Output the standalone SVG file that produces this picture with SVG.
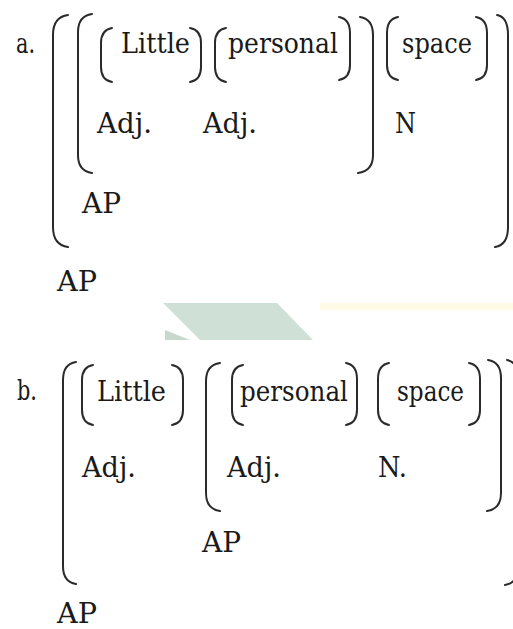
<svg xmlns="http://www.w3.org/2000/svg" width="513" height="629" viewBox="0 0 513 629">
<style>
  .t { font-family: 'DejaVu Serif', serif; font-size: 27.5px; fill: #1a1a1a; }
  .br { fill: none; stroke: #2a2a2a; stroke-width: 2; stroke-linecap: round; }
</style>
<rect x="0" y="0" width="513" height="629" fill="#ffffff"/>
<g id="watermark">
  <polygon points="163,303 277,303 313,340 200,340" fill="#cfe1d6"/>
  <polygon points="165,330 165,340 190,340" fill="#c8d8ce"/>
  <rect x="320" y="303" width="193" height="7" fill="#fffbe6"/>
</g>
<g id="part-a" class="t">
  <g id="a-label"><text x="16" y="53" textLength="19" lengthAdjust="spacingAndGlyphs">a.</text></g>
  <g id="a-little"><text x="121" y="53" textLength="69" lengthAdjust="spacingAndGlyphs">Little</text><text x="97" y="133" textLength="55" lengthAdjust="spacingAndGlyphs">Adj.</text></g>
  <g id="a-personal"><text x="228" y="53" textLength="110" lengthAdjust="spacingAndGlyphs">personal</text><text x="203" y="133" textLength="54" lengthAdjust="spacingAndGlyphs">Adj.</text></g>
  <g id="a-space"><text x="402" y="53" textLength="70" lengthAdjust="spacingAndGlyphs">space</text><text x="395" y="133" textLength="21" lengthAdjust="spacingAndGlyphs">N</text></g>
  <g id="a-ap-inner"><text x="82" y="213" textLength="39" lengthAdjust="spacingAndGlyphs">AP</text></g>
  <g id="a-ap-outer"><text x="57" y="291" textLength="40" lengthAdjust="spacingAndGlyphs">AP</text></g>
  <g id="a-brackets">
    <path class="br" d="M68,15 Q53,17 53,35 V227 Q53,245 68,247"/>
    <path class="br" d="M92,14 Q78,16 78,32 V155 Q78,171 92,173"/>
    <path class="br" d="M112,28 Q101,30 101,43 V67 Q101,80 112,82"/>
    <path class="br" d="M190,28 Q201,30 201,43 V67 Q201,80 190,82"/>
    <path class="br" d="M226,28 Q215,30 215,43 V67 Q215,80 226,82"/>
    <path class="br" d="M339,17 Q350,19 350,33 V65 Q350,78 339,80"/>
    <path class="br" d="M360,17 Q373,19 373,35 V155 Q373,171 358,173"/>
    <path class="br" d="M398,17 Q387,19 387,33 V65 Q387,78 398,80"/>
    <path class="br" d="M476,17 Q487,19 487,33 V65 Q487,78 476,80"/>
    <path class="br" d="M497,15 Q508,17 508,35 V227 Q508,245 495,247"/>
  </g>
</g>
<g id="part-b" class="t">
  <g id="b-label"><text x="17" y="400" textLength="20" lengthAdjust="spacingAndGlyphs">b.</text></g>
  <g id="b-little"><text x="97" y="401" textLength="69" lengthAdjust="spacingAndGlyphs">Little</text><text x="82" y="477" textLength="54" lengthAdjust="spacingAndGlyphs">Adj.</text></g>
  <g id="b-personal"><text x="240" y="401" textLength="108" lengthAdjust="spacingAndGlyphs">personal</text><text x="227" y="477" textLength="54" lengthAdjust="spacingAndGlyphs">Adj.</text></g>
  <g id="b-space"><text x="397" y="401" textLength="67" lengthAdjust="spacingAndGlyphs">space</text><text x="378" y="477" textLength="29" lengthAdjust="spacingAndGlyphs">N.</text></g>
  <g id="b-ap-inner"><text x="202" y="552" textLength="39" lengthAdjust="spacingAndGlyphs">AP</text></g>
  <g id="b-ap-outer"><text x="57" y="623" textLength="40" lengthAdjust="spacingAndGlyphs">AP</text></g>
  <g id="b-brackets">
    <path class="br" d="M76,362 Q63,364 63,380 V566 Q63,582 76,584"/>
    <path class="br" d="M93,365 Q82,367 82,380 V410 Q82,423 93,425"/>
    <path class="br" d="M172,365 Q183,367 183,380 V410 Q183,423 172,425"/>
    <path class="br" d="M220,363 Q206,365 206,381 V493 Q206,509 220,511"/>
    <path class="br" d="M243,365 Q232,367 232,380 V410 Q232,423 243,425"/>
    <path class="br" d="M346,363 Q357,365 357,379 V410 Q357,423 346,425"/>
    <path class="br" d="M389,363 Q378,365 378,379 V410 Q378,423 389,425"/>
    <path class="br" d="M469,363 Q480,365 480,379 V410 Q480,423 469,425"/>
    <path class="br" d="M488,360 Q501,362 501,378 V493 Q501,509 487,511"/>
    <path class="br" d="M507,360 Q518,362 518,378 V567 Q518,583 505,585"/>
  </g>
</g>
</svg>
